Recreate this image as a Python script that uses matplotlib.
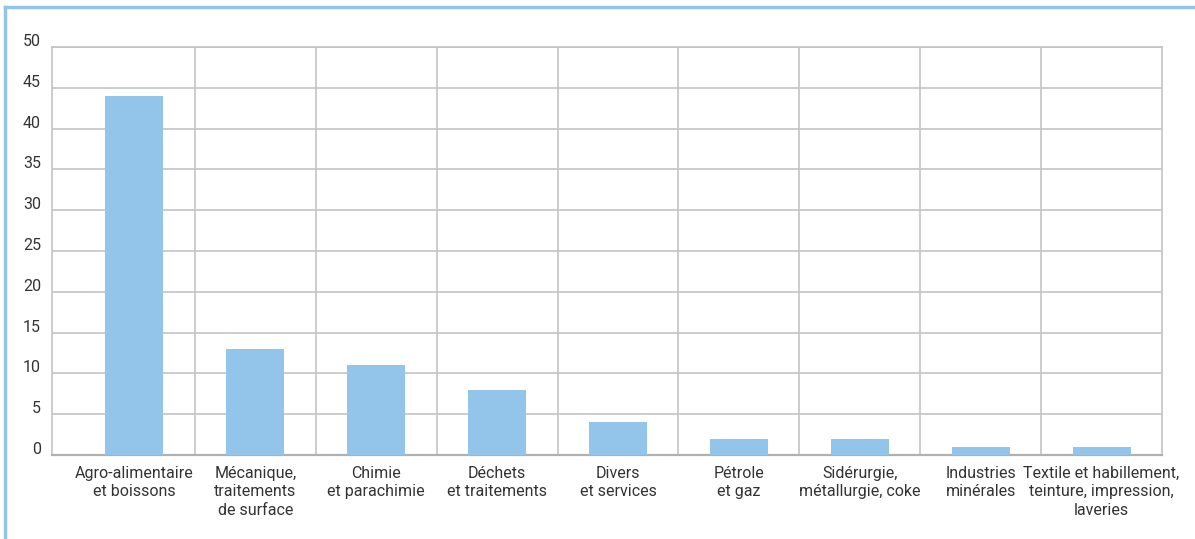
import numpy as np
import matplotlib
matplotlib.use("Agg")
import matplotlib.pyplot as plt
from matplotlib.lines import Line2D
from matplotlib.transforms import ScaledTranslation

# Données du graphique
categories = [
    "Agro-alimentaire\net boissons",
    "Mécanique,\ntraitements\nde surface",
    "Chimie\net parachimie",
    "Déchets\net traitements",
    "Divers\net services",
    "Pétrole\net gaz",
    "Sidérurgie,\nmétallurgie, coke",
    "Industries\nminérales",
    "Textile et habillement,\nteinture, impression,\nlaveries",
]
valeurs = [44, 13, 11, 8, 4, 2, 2, 1, 1]
yticks = [0, 5, 10, 15, 20, 25, 30, 35, 40, 45, 50]

bleu = "#93c5ea"
gris = "#c4c4c4"
texte = "#333333"

plt.rcParams["font.family"] = ["Roboto", "DejaVu Sans"]

fig = plt.figure(figsize=(11.95, 5.39), dpi=100)
ax = fig.add_axes([52 / 1195, 1 - 455 / 539, 1110 / 1195, 408 / 539])

x = np.arange(len(categories))
ax.bar(x, valeurs, width=0.48, color=bleu, zorder=3)

ax.set_ylim(0, 50)
ax.set_xlim(-0.5 - 22 / 121, len(categories) - 0.5)
ax.set_yticks(yticks)
ax.set_xticks(x)
ax.set_xticklabels(categories, fontsize=11.5, color=texte, linespacing=1.28)
ax.tick_params(axis="both", length=0, labelsize=11.5, labelcolor=texte)
ax.tick_params(axis="y", pad=8)
ax.tick_params(axis="x", pad=8)

# étiquettes y légèrement au-dessus des lignes
decalage = ScaledTranslation(0, 7 / 100, fig.dpi_scale_trans)
for lab in ax.get_yticklabels():
    lab.set_transform(lab.get_transform() + decalage)

ax.grid(axis="y", color=gris, linewidth=1.2, zorder=0)
for b in np.arange(0.5, len(categories) - 0.5, 1):
    ax.axvline(b, color=gris, linewidth=1.2, zorder=0)

for s in ax.spines.values():
    s.set_color(gris)
    s.set_linewidth(1.2)
ax.spines["bottom"].set_color("#b0b0b0")
ax.spines["bottom"].set_linewidth(1.6)

# cadre bleu (haut et gauche)
fig.add_artist(Line2D([5 / 1195, 1], [1 - 7 / 539, 1 - 7 / 539], color=bleu, linewidth=2.5, transform=fig.transFigure))
fig.add_artist(Line2D([5 / 1195, 5 / 1195], [0, 1 - 7 / 539], color=bleu, linewidth=2.5, transform=fig.transFigure))

fig.savefig("out.png", dpi=100)
